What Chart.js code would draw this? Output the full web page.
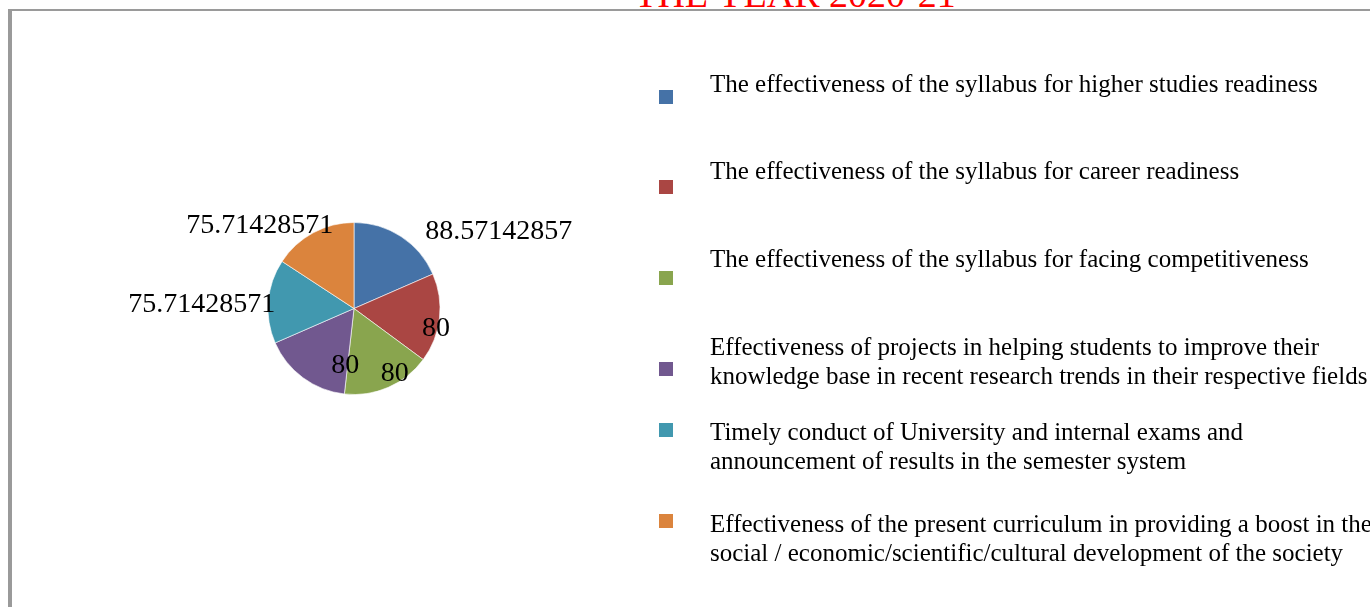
<!DOCTYPE html>
<html>
<head>
<meta charset="utf-8">
<script src="https://cdn.jsdelivr.net/npm/chart.js@4/dist/chart.umd.min.js"></script>
<style>
  html, body { margin:0; padding:0; background:#fff; }
  body { width:1370px; height:607px; position:relative; overflow:hidden; font-family:"Liberation Serif","Times New Roman",serif; }
  #frame { position:absolute; left:8px; top:9px; width:1400px; height:700px; border-top:2px solid #9a9a9a; border-left:4px solid #9a9a9a; box-sizing:border-box; }
  #title { position:absolute; left:545px; width:500px; top:-25px; text-align:center; font-size:38px; line-height:38px; color:#ff0000; white-space:nowrap; }
  #wrap { position:absolute; left:0; top:0; width:1370px; height:607px; }
  .lg-box { position:absolute; width:14px; height:14px; }
  .lg-text { position:absolute; font-size:25px; line-height:29px; color:#000; white-space:nowrap; }
</style>
</head>
<body>
<div id="frame"></div>
<div id="title">THE YEAR 2020-21</div>
<div id="wrap"><canvas id="c"></canvas></div>
<div id="legend"></div>
<script>
// ---- data ----
const categories = [
  ["The effectiveness of the syllabus for higher studies readiness"],
  ["The effectiveness of the syllabus for career readiness"],
  ["The effectiveness of the syllabus for facing competitiveness"],
  ["Effectiveness of projects in helping students to improve their", "knowledge base in recent research trends in their respective fields"],
  ["Timely conduct of University and internal exams and", "announcement of results in the semester system"],
  ["Effectiveness of the present curriculum in providing a boost in the", "social / economic/scientific/cultural development of the society"]
];
const values = [88.57142857, 80, 80, 80, 75.71428571, 75.71428571];
const valueLabels = ["88.57142857", "80", "80", "80", "75.71428571", "75.71428571"];
const colors = ["#4572A7", "#AA4643", "#89A54E", "#71588F", "#4198AF", "#DB843D"];

// ---- label placement (fraction along slice angle, radius factor) ----
const labelPlace = [
  [0.93, 1.91], [0.61, 0.98], [0.35, 0.88], [0.04, 0.66], [0.45, 1.77], [0.15, 1.47]
];

const labelPlugin = {
  id: 'valueLabels',
  afterDatasetsDraw(chart) {
    const ctx = chart.ctx;
    const meta = chart.getDatasetMeta(0);
    ctx.save();
    ctx.font = '28px "Liberation Serif", "Times New Roman", serif';
    ctx.fillStyle = '#000';
    ctx.textAlign = 'center';
    ctx.textBaseline = 'middle';
    meta.data.forEach((arc, i) => {
      const p = arc.getProps(['x', 'y', 'startAngle', 'endAngle', 'outerRadius'], true);
      const a = p.startAngle + labelPlace[i][0] * (p.endAngle - p.startAngle);
      const r = labelPlace[i][1] * p.outerRadius;
      ctx.fillText(valueLabels[i], p.x + Math.cos(a) * r, p.y + Math.sin(a) * r + 1);
    });
    ctx.restore();
  }
};

const chart = new Chart(document.getElementById('c'), {
  type: 'pie',
  data: {
    labels: categories,
    datasets: [{
      data: values,
      backgroundColor: colors,
      borderColor: 'rgba(255,255,255,0.6)',
      borderWidth: 1
    }]
  },
  options: {
    responsive: true,
    maintainAspectRatio: false,
    animation: false,
    layout: { padding: { left: 267, right: 929, top: 222, bottom: 212 } },
    plugins: { legend: { display: false }, tooltip: { enabled: false } }
  },
  plugins: [labelPlugin]
});

// ---- legend (HTML, built from chart data) ----
const legendTextTop = [69, 156, 244, 332, 417, 509];
const legendBoxTop = [90, 180, 271, 362, 423, 514];
const legend = document.getElementById('legend');
chart.data.labels.forEach((lab, i) => {
  const box = document.createElement('div');
  box.className = 'lg-box';
  box.style.left = '659px';
  box.style.top = legendBoxTop[i] + 'px';
  box.style.background = chart.data.datasets[0].backgroundColor[i];
  legend.appendChild(box);
  const t = document.createElement('div');
  t.className = 'lg-text';
  t.style.left = '710px';
  t.style.top = legendTextTop[i] + 'px';
  lab.forEach((line, j) => {
    if (j) t.appendChild(document.createElement('br'));
    t.appendChild(document.createTextNode(line));
  });
  legend.appendChild(t);
});
</script>
</body>
</html>
